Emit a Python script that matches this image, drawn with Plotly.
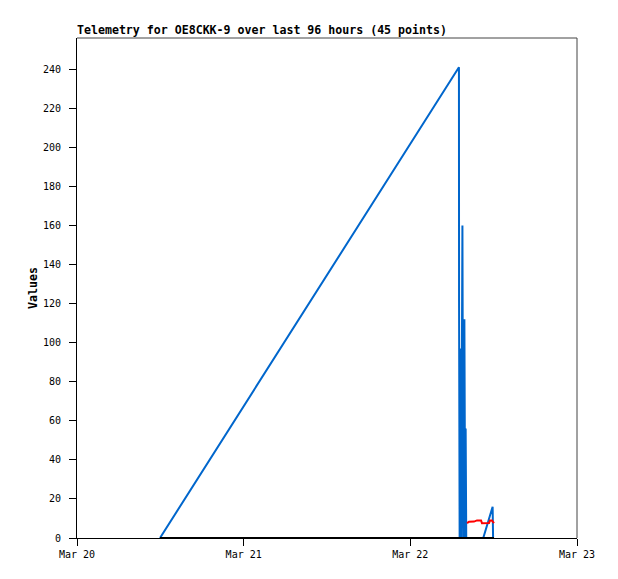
import plotly.graph_objects as go

# telemetry samples
blue_times = ["2024-03-20 11:57", "2024-03-22 07:00", "2024-03-22 07:01", "2024-03-22 07:06",
              "2024-03-22 07:12", "2024-03-22 07:19", "2024-03-22 07:30", "2024-03-22 07:37",
              "2024-03-22 07:47", "2024-03-22 07:54", "2024-03-22 07:58", "2024-03-22 08:03",
              "2024-03-22 10:30", "2024-03-22 11:51", "2024-03-22 11:55"]
blue_values = [0, 241, 121, 0, 97, 0, 160, 0, 112, 0, 56, 0, 0, 16, 0]

red_times = ["2024-03-22 08:10", "2024-03-22 08:27", "2024-03-22 09:10", "2024-03-22 09:36",
             "2024-03-22 10:11", "2024-03-22 10:19", "2024-03-22 11:20", "2024-03-22 11:28",
             "2024-03-22 11:45", "2024-03-22 12:03"]
red_values = [7.6, 8.3, 8.4, 9.0, 9.0, 7.6, 7.7, 8.9, 8.9, 7.6]

black_times = ["2024-03-20 11:57", "2024-03-21 12:00", "2024-03-22 07:00", "2024-03-22 12:03"]
black_values = [0, 0, 0, 0]

tick_dates = ["2024-03-20", "2024-03-21", "2024-03-22", "2024-03-23"]
tick_labels = ["Mar 20", "Mar 21", "Mar 22", "Mar 23"]
y_ticks = list(range(0, 241, 20))

mono = "DejaVu Sans Mono"

fig = go.Figure()
fig.add_trace(go.Scatter(x=blue_times, y=blue_values, mode="lines",
                         line=dict(color="#0066cc", width=2), showlegend=False))
fig.add_trace(go.Scatter(x=black_times, y=black_values, mode="lines",
                         line=dict(color="#000000", width=2), showlegend=False))
fig.add_trace(go.Scatter(x=red_times, y=red_values, mode="lines",
                         line=dict(color="#ff0000", width=2), showlegend=False))

# page body has an 8px margin, so the figure is a bit smaller than the window
fig.update_layout(
    width=610, height=571,
    margin=dict(l=69, r=41, t=30, b=41),
    paper_bgcolor="white", plot_bgcolor="white",
    font=dict(family=mono, size=10, color="black"),
    title=dict(text="<b>Telemetry for OE8CKK-9 over last 96 hours (45 points)</b>",
               font=dict(family=mono, size=11.6, color="black"),
               x=69 / 610, xanchor="left", xref="container",
               y=1 - 22 / 571, yanchor="middle", yref="container"),
)
fig.update_xaxes(range=["2024-03-20", "2024-03-23"], tickvals=tick_dates, ticktext=tick_labels,
                 showgrid=False, zeroline=False, showline=True, linecolor="black", linewidth=1,
                 ticks="outside", ticklen=7, tickcolor="black", tickfont=dict(family=mono, size=10))
fig.update_yaxes(range=[0, 256], tickvals=y_ticks,
                 showgrid=False, zeroline=False, showline=True, linecolor="black", linewidth=1,
                 ticks="outside", ticklen=7, tickcolor="black", tickfont=dict(family=mono, size=10),
                 ticklabelstandoff=6)

# top and right frame lines
fig.add_shape(type="line", xref="paper", yref="paper", x0=0, x1=1, y0=1, y1=1,
              line=dict(color="#444444", width=1))
fig.add_shape(type="line", xref="paper", yref="paper", x0=1, x1=1, y0=0, y1=1,
              line=dict(color="#444444", width=1))

fig.add_annotation(text="<b>Values</b>", textangle=-90, xref="paper", yref="paper",
                   x=-53 / 500, y=0.5, showarrow=False,
                   font=dict(family=mono, size=11.6, color="black"))

fig.write_html("out.html")
